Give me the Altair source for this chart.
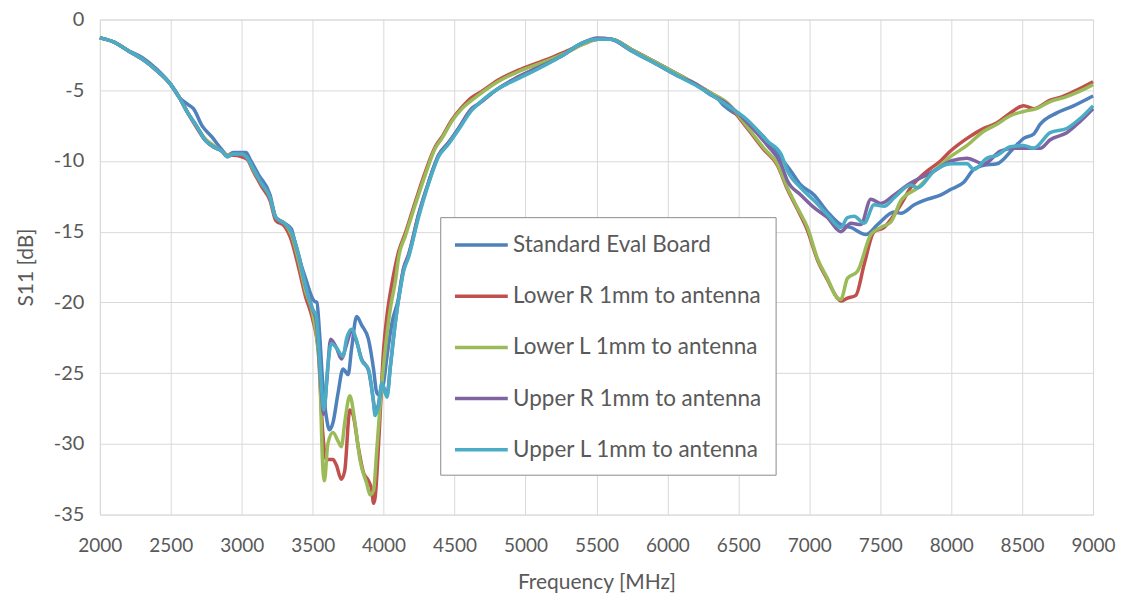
import altair as alt
import pandas as pd

series_names = [
    "Standard Eval Board",
    "Lower R 1mm to antenna",
    "Lower L 1mm to antenna",
    "Upper R 1mm to antenna",
    "Upper L 1mm to antenna",
]
series_colors = ["#4F81BD", "#C0504D", "#9BBB59", "#8064A2", "#4BACC6"]

x_ticks = [2000, 2500, 3000, 3500, 4000, 4500, 5000, 5500, 6000, 6500, 7000, 7500, 8000, 8500, 9000]
y_ticks = [0, -5, -10, -15, -20, -25, -30, -35]

standard_eval = [
    (2000, -1.3), (2100, -1.6), (2200, -2.2), (2300, -2.7), (2400, -3.5), (2500, -4.6),
    (2560, -5.5), (2620, -6.0), (2660, -6.3), (2720, -7.5), (2790, -8.3), (2860, -9.2),
    (2900, -9.6), (2940, -9.4), (3030, -9.4), (3060, -9.9), (3120, -11.0), (3200, -12.4),
    (3240, -14.0), (3300, -14.4), (3350, -14.8), (3380, -16.0), (3450, -18.3), (3510, -19.9),
    (3530, -20.0), (3548, -22.1), (3571, -25.7), (3595, -28.0), (3619, -29.0), (3643, -28.5),
    (3679, -26.4), (3714, -24.7), (3750, -25.1), (3774, -23.3), (3810, -21.0), (3845, -21.6),
    (3893, -22.6), (3929, -24.7), (3952, -26.4), (3976, -26.6), (4000, -25.7), (4024, -23.8),
    (4060, -21.4), (4106, -19.7), (4141, -17.6), (4176, -16.7), (4246, -13.8), (4317, -11.5),
    (4387, -9.6), (4458, -8.7), (4528, -7.7), (4622, -6.3), (4664, -6.0), (4805, -4.9),
    (4922, -4.2), (5087, -3.4), (5251, -2.6), (5392, -1.7), (5509, -1.4), (5603, -1.4),
    (5744, -2.1), (5931, -3.1), (6096, -4.0), (6200, -4.6), (6300, -5.3), (6354, -5.6),
    (6400, -6.1), (6469, -6.6), (6564, -7.2), (6705, -8.6), (6800, -9.8), (6869, -10.7),
    (6940, -11.7), (7034, -12.4), (7128, -13.6), (7222, -14.5), (7293, -14.7), (7399, -15.2),
    (7481, -14.5), (7599, -13.6), (7646, -13.7), (7740, -13.1), (7834, -12.7), (7928, -12.4),
    (7999, -12.0), (8089, -11.5), (8159, -10.6), (8230, -10.3), (8323, -10.2), (8440, -9.1),
    (8511, -8.4), (8581, -8.1), (8628, -7.4), (8745, -6.6), (8862, -6.1), (9000, -5.4),
]

lower_r = [
    (2000, -1.3), (2100, -1.6), (2200, -2.2), (2300, -2.8), (2400, -3.6), (2500, -4.6),
    (2560, -5.5), (2620, -6.6), (2680, -7.6), (2740, -8.5), (2800, -9.0), (2860, -9.3),
    (2900, -9.6), (2940, -9.6), (3000, -9.7), (3040, -9.9), (3080, -10.7), (3140, -11.8),
    (3200, -12.8), (3240, -14.2), (3300, -14.6), (3350, -15.6), (3400, -17.5), (3450, -19.6),
    (3500, -21.2), (3540, -23.5), (3571, -29.2), (3595, -31.1), (3643, -31.1), (3667, -31.5),
    (3702, -32.5), (3726, -31.9), (3762, -27.6), (3786, -28.0), (3821, -30.2), (3857, -32.0),
    (3893, -32.6), (3917, -33.3), (3929, -34.2), (3940, -33.8), (3969, -29.2), (4000, -23.3),
    (4024, -20.9), (4060, -18.6), (4106, -16.4), (4153, -15.1), (4223, -12.9), (4293, -10.8),
    (4364, -9.0), (4411, -8.3), (4481, -7.1), (4552, -6.2), (4622, -5.5), (4688, -5.1),
    (4805, -4.3), (4970, -3.5), (5157, -2.8), (5298, -2.2), (5415, -1.7), (5509, -1.4),
    (5603, -1.4), (5744, -2.1), (5931, -3.1), (6096, -4.0), (6190, -4.5), (6307, -5.2),
    (6425, -6.0), (6564, -7.7), (6680, -9.2), (6775, -10.3), (6846, -12.0), (6916, -13.4),
    (6987, -14.9), (7058, -17.0), (7128, -18.4), (7199, -19.7), (7222, -19.9), (7269, -19.7),
    (7328, -19.5), (7387, -17.3), (7457, -15.0), (7528, -14.7), (7599, -13.8), (7644, -13.1),
    (7714, -11.9), (7808, -10.9), (7925, -10.0), (7995, -9.3), (8112, -8.4), (8230, -7.7),
    (8323, -7.3), (8417, -6.6), (8511, -6.1), (8581, -6.3), (8698, -5.7), (8768, -5.5),
    (8862, -5.1), (9000, -4.4),
]

lower_l = [
    (2000, -1.3), (2100, -1.6), (2200, -2.2), (2300, -2.8), (2400, -3.6), (2500, -4.6),
    (2560, -5.5), (2620, -6.6), (2680, -7.5), (2740, -8.4), (2800, -8.9), (2860, -9.3),
    (2900, -9.6), (2940, -9.5), (3000, -9.5), (3040, -9.8), (3080, -10.6), (3140, -11.6),
    (3200, -12.6), (3240, -14.0), (3300, -14.4), (3350, -15.2), (3400, -17.0), (3450, -19.2),
    (3500, -20.8), (3548, -24.5), (3571, -31.6), (3583, -32.6), (3607, -30.0), (3643, -29.2),
    (3679, -29.8), (3702, -30.2), (3726, -28.5), (3762, -26.6), (3798, -28.5), (3833, -31.1),
    (3881, -32.8), (3905, -33.6), (3929, -33.3), (3952, -30.4), (3988, -25.7), (4012, -23.3),
    (4048, -20.4), (4083, -18.5), (4106, -16.8), (4153, -15.3), (4223, -13.1), (4293, -11.0),
    (4364, -9.1), (4411, -8.4), (4481, -7.2), (4552, -6.3), (4622, -5.7), (4688, -5.2),
    (4805, -4.4), (4970, -3.6), (5157, -2.9), (5298, -2.3), (5415, -1.7), (5509, -1.4),
    (5603, -1.4), (5744, -2.1), (5931, -3.1), (6096, -4.0), (6190, -4.5), (6307, -5.2),
    (6425, -5.9), (6564, -7.6), (6680, -9.1), (6775, -10.2), (6846, -11.9), (6916, -13.3),
    (6987, -14.7), (7058, -16.9), (7128, -18.3), (7199, -19.7), (7222, -19.8), (7269, -18.3),
    (7340, -17.8), (7434, -15.2), (7504, -14.7), (7576, -14.3), (7646, -12.8), (7764, -11.9),
    (7881, -10.7), (7995, -9.7), (8112, -8.9), (8230, -7.9), (8323, -7.4), (8417, -6.8),
    (8511, -6.5), (8600, -6.3), (8698, -5.8), (8800, -5.5), (8900, -5.1), (9000, -4.6),
]

upper_r = [
    (2000, -1.3), (2100, -1.6), (2200, -2.2), (2300, -2.8), (2400, -3.6), (2500, -4.6),
    (2560, -5.5), (2620, -6.6), (2680, -7.5), (2740, -8.5), (2800, -9.0), (2860, -9.3),
    (2900, -9.7), (2940, -9.5), (3000, -9.5), (3040, -9.8), (3080, -10.5), (3140, -11.6),
    (3200, -12.6), (3240, -14.0), (3300, -14.4), (3350, -15.0), (3400, -16.6), (3450, -18.8),
    (3500, -20.5), (3524, -21.2), (3560, -26.0), (3577, -27.9), (3600, -25.5), (3627, -22.6),
    (3667, -23.2), (3704, -24.0), (3738, -23.0), (3775, -22.0), (3810, -22.8), (3845, -24.0),
    (3893, -24.8), (3929, -27.0), (3940, -27.8), (3964, -27.2), (3988, -25.8), (4024, -26.5),
    (4048, -24.5), (4083, -21.4), (4119, -18.8), (4141, -17.6), (4176, -16.6), (4246, -13.8),
    (4317, -11.5), (4387, -9.6), (4458, -8.7), (4528, -7.7), (4622, -6.3), (4664, -6.0),
    (4805, -4.9), (4922, -4.2), (5087, -3.4), (5251, -2.6), (5392, -1.7), (5509, -1.3),
    (5603, -1.4), (5744, -2.2), (5931, -3.2), (6096, -4.1), (6190, -4.5), (6307, -5.3),
    (6425, -6.0), (6564, -7.3), (6705, -8.9), (6800, -10.2), (6846, -11.4), (6940, -12.4),
    (7034, -13.3), (7128, -14.0), (7222, -15.0), (7293, -14.4), (7363, -14.5), (7434, -12.7),
    (7504, -13.0), (7599, -12.4), (7693, -11.7), (7881, -10.7), (7999, -10.0), (8112, -9.8),
    (8230, -10.2), (8347, -9.3), (8440, -9.1), (8534, -9.1), (8628, -9.1), (8698, -8.5),
    (8815, -8.0), (8909, -7.2), (9000, -6.3),
]

upper_l = [
    (2000, -1.3), (2100, -1.6), (2200, -2.2), (2300, -2.8), (2400, -3.6), (2500, -4.6),
    (2560, -5.5), (2620, -6.6), (2680, -7.5), (2740, -8.5), (2800, -9.0), (2860, -9.3),
    (2900, -9.7), (2940, -9.5), (3000, -9.5), (3040, -9.8), (3080, -10.5), (3140, -11.6),
    (3200, -12.6), (3240, -14.0), (3300, -14.4), (3350, -15.0), (3400, -16.6), (3450, -18.8),
    (3500, -20.5), (3524, -20.9), (3560, -25.7), (3579, -27.6), (3607, -24.5), (3631, -22.9),
    (3667, -23.2), (3714, -23.8), (3738, -22.6), (3774, -21.9), (3810, -22.7), (3845, -24.1),
    (3893, -24.7), (3929, -27.1), (3940, -28.0), (3964, -27.3), (3988, -25.7), (4024, -26.7),
    (4048, -24.5), (4083, -21.4), (4119, -19.0), (4141, -17.8), (4176, -16.8), (4246, -14.0),
    (4317, -11.6), (4387, -9.7), (4458, -8.8), (4528, -7.8), (4622, -6.4), (4664, -6.0),
    (4805, -4.9), (4922, -4.3), (5087, -3.5), (5251, -2.6), (5392, -1.7), (5509, -1.4),
    (5603, -1.4), (5744, -2.2), (5931, -3.2), (6096, -4.1), (6190, -4.6), (6307, -5.3),
    (6425, -6.1), (6564, -7.1), (6705, -8.6), (6800, -9.5), (6846, -10.7), (6940, -11.9),
    (7034, -12.8), (7128, -13.8), (7222, -14.7), (7269, -14.0), (7316, -13.9), (7387, -14.4),
    (7457, -13.1), (7528, -13.2), (7599, -12.6), (7717, -11.7), (7764, -11.9), (7881, -10.7),
    (7999, -10.2), (8112, -10.2), (8159, -10.6), (8253, -9.8), (8323, -9.6), (8417, -9.0),
    (8511, -8.9), (8581, -9.1), (8698, -8.0), (8815, -7.7), (8909, -7.0), (9000, -6.1),
]

all_series = [standard_eval, lower_r, lower_l, upper_r, upper_l]

rows = []
for name, pts in zip(series_names, all_series):
    for i, (f, v) in enumerate(pts):
        rows.append({"series": name, "freq": f, "s11": v, "idx": i})
df = pd.DataFrame(rows)

FONT = "Lato"
GRAY = "#595959"

color_scale = alt.Scale(domain=series_names, range=series_colors)

layers = []
for k, name in enumerate(series_names):
    layer = (
        alt.Chart(df)
        .transform_filter(alt.datum.series == name)
        .mark_line(strokeWidth=3.5, interpolate="monotone")
        .encode(
            x=alt.X(
                "freq:Q",
                scale=alt.Scale(domain=[2000, 9000], nice=False, zero=False),
                axis=alt.Axis(
                    values=x_ticks,
                    format="d",
                    title="Frequency [MHz]",
                    labelFont=FONT,
                    labelFontSize=19,
                    labelColor=GRAY,
                    labelPadding=22,
                    labelFlush=False,
                    labelOverlap=False,
                    titleFont=FONT,
                    titleFontSize=21,
                    titleFontWeight="normal",
                    titleColor=GRAY,
                    titlePadding=16,
                    grid=True,
                    gridColor="#D9D9D9",
                    gridWidth=1,
                    ticks=False,
                    domain=False,
                ),
            ),
            y=alt.Y(
                "s11:Q",
                scale=alt.Scale(domain=[-35, 0], nice=False, zero=False),
                axis=alt.Axis(
                    values=y_ticks,
                    labelExpr="'' + datum.value",
                    title="S11 [dB]",
                    labelFont=FONT,
                    labelFontSize=20,
                    labelColor=GRAY,
                    labelPadding=16,
                    labelFlush=False,
                    labelOverlap=False,
                    titleFont=FONT,
                    titleFontSize=21,
                    titleFontWeight="normal",
                    titleColor=GRAY,
                    titlePadding=17,
                    grid=True,
                    gridColor="#D9D9D9",
                    gridWidth=1,
                    ticks=False,
                    domain=False,
                ),
            ),
            color=alt.Color(
                "series:N",
                scale=color_scale,
                title=None,
                legend=alt.Legend(
                    orient="none",
                    legendX=341,
                    legendY=198,
                    direction="vertical",
                    symbolType="M-1,0H3",
                    symbolStrokeWidth=3.5,
                    symbolSize=700,
                    labelFont=FONT,
                    labelFontSize=22.5,
                    labelColor=GRAY,
                    labelOffset=30,
                    labelLimit=400,
                    rowPadding=24.25,
                    padding=13,
                    strokeColor="#8C8C8C",
                    fillColor="#FFFFFF",
                ),
            ),
            order="idx:Q",
        )
    )
    layers.append(layer)

chart = (
    alt.layer(*layers)
    .properties(width=995, height=496, padding={"left": 7, "top": 1, "right": 0, "bottom": 5})
    .configure_view(stroke=None)
    .configure(background="white")
)

chart.save("out.html", embed_options={"renderer": "svg", "actions": False})
